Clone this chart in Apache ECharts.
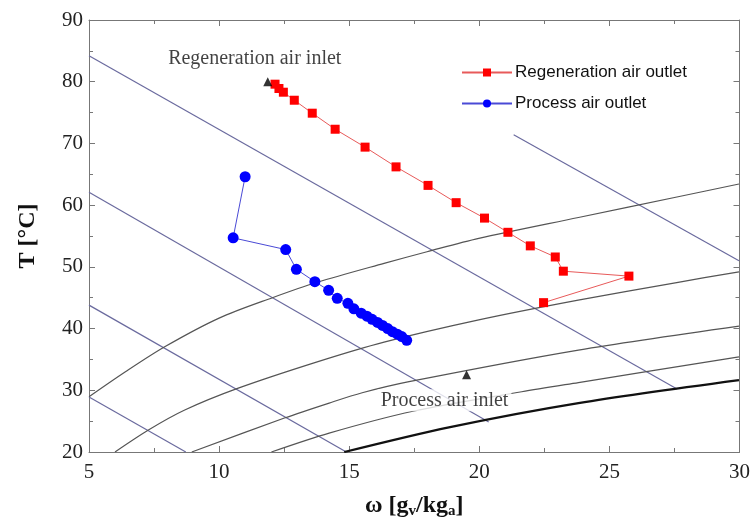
<!DOCTYPE html>
<html><head><meta charset="utf-8">
<script src="https://cdn.jsdelivr.net/npm/echarts@6/dist/echarts.min.js"></script>
<style>html,body{margin:0;padding:0;background:#fff}#c{width:753px;height:525px}</style>
</head><body><div id="c"></div>
<script>
// ---- data ----
const xTicks = [5, 10, 15, 20, 25, 30];
const yTicks = [20, 30, 40, 50, 60, 70, 80, 90];

const regenOmega = [12.15, 12.30, 12.47, 12.89, 13.58, 14.46, 15.61, 16.80, 18.03, 19.11, 20.20, 21.10, 21.96, 22.92, 23.23, 25.75, 22.47];
const regenT     = [79.6, 78.9, 78.3, 77.0, 74.9, 72.3, 69.4, 66.2, 63.2, 60.4, 57.9, 55.6, 53.4, 51.6, 49.3, 48.5, 44.2];

const processOmega = [11.00, 10.54, 12.56, 12.97, 13.68, 14.21, 14.54, 14.95, 15.18, 15.46, 15.68, 15.88, 16.09, 16.28, 16.48, 16.66, 16.85, 17.02, 17.21];
const processT     = [64.6, 54.7, 52.8, 49.6, 47.6, 46.2, 44.9, 44.1, 43.2, 42.5, 42.0, 41.5, 41.0, 40.5, 40.0, 39.5, 39.1, 38.7, 38.1];

const regenInlet = [11.87, 80.0];
const processInlet = [19.51, 32.5];

// constant-enthalpy lines (straight)
const enthalpy1 = [[5, 84.2], [27.6, 30.2]];
const enthalpy2 = [[5, 62.1], [20.36, 24.85]];
const enthalpy3 = [[5, 43.8], [14.89, 20.0]];
const enthalpy4 = [[5, 28.9], [8.72, 20.0]];
const enthalpy5 = [[21.32, 71.4], [29.98, 51.0]];

// relative-humidity curves
const rh1 = [[5, 28.95], [6.4, 33.0], [7.91, 37.05], [10.0, 41.7], [12.05, 45.0], [13.77, 47.5], [16.34, 50.57], [17.99, 52.45], [19.98, 54.62], [23.81, 58.0], [27.64, 61.36], [29.98, 63.42]];
const rh2 = [[6.0, 20.0], [7.3, 23.6], [8.68, 26.8], [10.71, 30.3], [13.77, 34.6], [16.34, 37.8], [19.98, 41.4], [23.8, 44.6], [27.64, 47.5], [29.98, 49.2]];
const rh3 = [[8.95, 20.0], [12.51, 25.5], [14.23, 27.93], [15.50, 29.6], [17.30, 31.4], [23.81, 36.52], [29.98, 40.41]];
const rh4 = [[12.01, 20.0], [14.23, 23.06], [17.45, 26.6], [21.63, 29.76], [23.81, 31.25], [29.98, 35.4]];
const saturation = [[14.81, 20.0], [18.83, 24.0], [23.81, 27.93], [29.98, 31.65]];

// ---- chart ----
const zip = (a, b) => a.map((v, i) => [v, b[i]]);
const serif = 'Liberation Serif';
const axisCol = '#777';
const bgLine = (data, color, width, smooth) => ({
  type: 'line', data, symbol: 'none', silent: true, z: 1, smooth: smooth || false,
  lineStyle: { color, width }, emphasis: { disabled: true }
});
const enthCol = '#6a6a9e', rhCol = '#555';

const chart = echarts.init(document.getElementById('c'), null, { renderer: 'canvas' });
chart.setOption({
  animation: false,
  backgroundColor: '#fff',
  grid: { left: 89, right: 12, top: 20, bottom: 73 },
  legend: {
    orient: 'vertical', left: 456, top: 59, itemGap: 14,
    itemWidth: 50, itemHeight: 10,
    textStyle: { fontFamily: 'Liberation Sans', fontSize: 17, color: '#111', padding: [0, 0, 0, -2] },
    data: ['Regeneration air outlet', 'Process air outlet']
  },
  xAxis: [{
    type: 'value', min: xTicks[0], max: xTicks[xTicks.length - 1], interval: 5,
    name: 'ω [g{s|v}/kg{s|a}]', nameLocation: 'middle', nameGap: 40,
    nameTextStyle: { fontFamily: serif, fontSize: 24, fontWeight: 'bold', color: '#111',
      rich: { s: { fontFamily: serif, fontSize: 15, fontWeight: 'bold', verticalAlign: 'bottom', padding: [12, 0, 0, 0] } } },
    axisLine: { lineStyle: { color: axisCol } },
    axisTick: { inside: true, length: 6, lineStyle: { color: axisCol } },
    minorTick: { show: true, splitNumber: 2, length: 4, lineStyle: { color: axisCol } },
    axisLabel: { fontFamily: serif, fontSize: 21, color: '#222', margin: 10 },
    splitLine: { show: false }
  }, {
    type: 'value', position: 'top', min: 5, max: 30, interval: 5,
    axisLine: { show: true, lineStyle: { color: axisCol } },
    axisTick: { inside: true, length: 6, lineStyle: { color: axisCol } },
    minorTick: { show: true, splitNumber: 2, length: 4, lineStyle: { color: axisCol } },
    axisLabel: { show: false }, splitLine: { show: false }
  }],
  yAxis: [{
    type: 'value', min: yTicks[0], max: yTicks[yTicks.length - 1], interval: 10,
    name: 'T [°C]', nameLocation: 'middle', nameGap: 49, nameRotate: 90,
    nameTextStyle: { fontFamily: serif, fontSize: 24, fontWeight: 'bold', color: '#111' },
    axisLine: { show: true, lineStyle: { color: axisCol } },
    axisTick: { show: true, inside: true, length: 6, lineStyle: { color: axisCol } },
    minorTick: { show: true, splitNumber: 2, length: 4, lineStyle: { color: axisCol } },
    axisLabel: { fontFamily: serif, fontSize: 21, color: '#222', margin: 6 },
    splitLine: { show: false }
  }, {
    type: 'value', position: 'right', min: 20, max: 90, interval: 10,
    axisLine: { show: true, lineStyle: { color: axisCol } },
    axisTick: { show: true, inside: true, length: 6, lineStyle: { color: axisCol } },
    minorTick: { show: true, splitNumber: 2, length: 4, lineStyle: { color: axisCol } },
    axisLabel: { show: false }, splitLine: { show: false }
  }],
  series: [
    bgLine(enthalpy1, enthCol, 1.2),
    bgLine(enthalpy2, enthCol, 1.2),
    bgLine(enthalpy3, enthCol, 1.2),
    bgLine(enthalpy4, enthCol, 1.2),
    bgLine(enthalpy5, enthCol, 1.2),
    bgLine(rh1, rhCol, 1.2, 0.3),
    bgLine(rh2, rhCol, 1.2, 0.3),
    bgLine(rh3, rhCol, 1.2, 0.3),
    bgLine(rh4, rhCol, 1.2, 0.3),
    bgLine(saturation, '#111', 2.2, 0.3),
    {
      name: 'Regeneration air outlet', type: 'line', z: 5,
      data: zip(regenOmega, regenT), symbol: 'rect', symbolSize: 9,
      itemStyle: { color: '#ff0000' }, lineStyle: { color: '#e85a5a', width: 1 }
    },
    {
      name: 'Process air outlet', type: 'line', z: 5,
      data: zip(processOmega, processT), symbol: 'circle', symbolSize: 11,
      itemStyle: { color: '#0000ff' }, lineStyle: { color: '#4a4ad6', width: 1 }
    },
    {
      type: 'scatter', z: 6, symbol: 'triangle', symbolSize: 9, silent: true,
      itemStyle: { color: '#000' },
      data: [
        { value: regenInlet, label: { show: true, formatter: 'Regeneration air inlet', position: 'top', offset: [-13, -3],
          fontFamily: serif, fontSize: 20, color: '#111' } },
        { value: processInlet, label: { show: true, formatter: 'Process air inlet', position: 'bottom', offset: [-22, 5],
          fontFamily: serif, fontSize: 20, color: '#111', backgroundColor: '#fff', padding: [1, 3] } }
      ]
    }
  ]
});
</script></body></html>
